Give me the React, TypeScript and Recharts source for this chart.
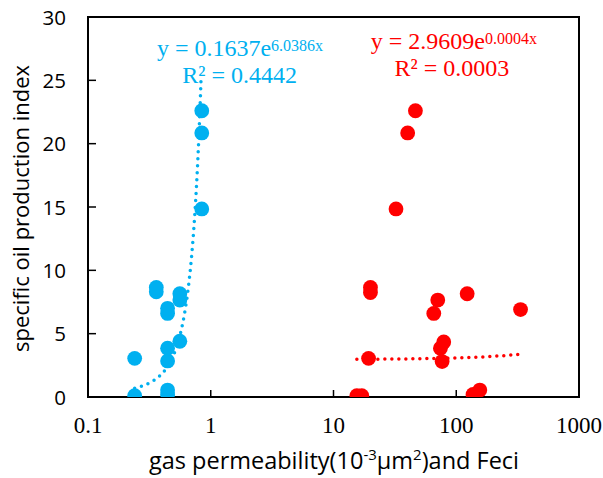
import React from 'react';
import { ScatterChart, Scatter, XAxis, YAxis, ReferenceArea } from 'recharts';

const BLUE = '#00B0F0';
const RED = '#FF0000';

// Feci series (blue)
const blueX = [0.24, 0.24, 0.36, 0.36, 0.445, 0.445, 0.445, 0.445, 0.445, 0.445, 0.56, 0.56, 0.56, 0.845, 0.845, 0.845];
const blueY = [0.1, 3.05, 8.3, 8.65, 0.2, 0.55, 2.85, 3.85, 6.6, 7.0, 4.4, 7.65, 8.15, 14.85, 20.85, 22.6];

// gas permeability series (red)
const redX = [15.5, 17, 19.3, 20, 20, 32.3, 40.2, 46.5, 65.6, 70.7, 74.3, 76.7, 79.1, 122.7, 137, 155.6, 334];
const redY = [0.1, 0.1, 3.05, 8.25, 8.65, 14.85, 20.85, 22.6, 6.6, 7.65, 3.85, 2.8, 4.35, 8.15, 0.2, 0.55, 6.9];

// trend line equations as shown on chart: y = a * e^(b x)
const blueTrendA = 0.1637;
const blueTrendB = 6.0386;
const redTrendA = 2.9609;
const redTrendB = 0.0004;
const blueTrendX = [0.24, 0.26, 0.28, 0.3, 0.32, 0.34, 0.36, 0.38, 0.4, 0.42, 0.44, 0.46, 0.48, 0.5, 0.52, 0.54, 0.56, 0.58, 0.6, 0.62, 0.64, 0.66, 0.68, 0.7, 0.72, 0.74, 0.76, 0.78, 0.8, 0.82, 0.835];
const redTrendX = [15.5, 20, 30, 40, 60, 80, 100, 130, 160, 200, 250, 300, 334];

const xTicks = [0.1, 1, 10, 100, 1000];
const xTickLabels = ['0.1', '1', '10', '100', '1000'];
const yTicks = [0, 5, 10, 15, 20, 25, 30];

const blueData = blueX.map((x, i) => ({ x, y: blueY[i] }));
const redData = redX.map((x, i) => ({ x, y: redY[i] }));
const blueTrend = blueTrendX.map((x) => ({ x, y: blueTrendA * Math.exp(blueTrendB * x) }));
const redTrend = redTrendX.map((x) => ({ x, y: redTrendA * Math.exp(redTrendB * x) }));

const XTick = (props: any) => {
  const { x, y, payload } = props;
  const idx = xTicks.indexOf(payload.value);
  return (
    <g>
      <line x1={x} y1={y} x2={x} y2={y - 7} stroke="#000" strokeWidth={1.5} />
      <text x={x} y={y + 36} textAnchor="middle" fontFamily="'Liberation Serif', serif" fontSize={23} fill="#000">
        {idx >= 0 ? xTickLabels[idx] : String(payload.value)}
      </text>
    </g>
  );
};

const YTick = (props: any) => {
  const { x, y, payload } = props;
  return (
    <g>
      <line x1={x} y1={y} x2={x + 8} y2={y} stroke="#000" strokeWidth={1.5} />
      <text x={x - 22} y={y + 7.5} textAnchor="end" fontFamily="'Open Sans', sans-serif" fontSize={20.5} fill="#000">
        {payload.value}
      </text>
    </g>
  );
};

const Dot = (color: string) => (props: any) => {
  const { cx, cy } = props;
  return <circle cx={cx} cy={cy} r={7.4} fill={color} />;
};

const NoDot = () => <g />;

export default function App() {
  return (
    <div style={{ position: 'absolute', left: 0, top: 0, width: 603, height: 478, overflow: 'hidden' }}>
      <ScatterChart width={603} height={478} margin={{ top: 17, right: 24, left: 0, bottom: 0 }} style={{ overflow: 'visible' }}>
        <XAxis
          dataKey="x"
          type="number"
          scale="log"
          domain={[0.1, 1000]}
          ticks={xTicks}
          allowDataOverflow
          height={81}
          tickSize={0}
          tickMargin={0}
          tickLine={false}
          axisLine={{ stroke: '#000', strokeWidth: 2 }}
          tick={<XTick />}
          interval={0}
        />
        <YAxis
          dataKey="y"
          type="number"
          domain={[0, 30]}
          ticks={yTicks}
          allowDataOverflow
          width={88}
          tickSize={0}
          tickMargin={0}
          tickLine={false}
          axisLine={{ stroke: '#000', strokeWidth: 2 }}
          tick={<YTick />}
          interval={0}
        />
        <ReferenceArea x1={0.1} x2={1000} y1={0} y2={30} stroke="#000" strokeWidth={2} fill="none" fillOpacity={0} />
        <Scatter data={blueData} fill={BLUE} shape={Dot(BLUE)} isAnimationActive={false} />
        <Scatter data={redData} fill={RED} shape={Dot(RED)} isAnimationActive={false} />
        <Scatter
          data={blueTrend}
          shape={NoDot}
          line={{ stroke: BLUE, strokeWidth: 3.5, strokeDasharray: '0 7', strokeLinecap: 'round' }}
          isAnimationActive={false}
        />
        <Scatter
          data={redTrend}
          shape={NoDot}
          line={{ stroke: RED, strokeWidth: 3.5, strokeDasharray: '0 7', strokeLinecap: 'round' }}
          isAnimationActive={false}
        />
      </ScatterChart>
      <svg width={603} height={478} style={{ position: 'absolute', left: 0, top: 0, pointerEvents: 'none' }}>
        <text x={240} y={56} textAnchor="middle" fontFamily="'Liberation Serif', serif" fontSize={24} fill={BLUE}>
          y = 0.1637e<tspan fontSize={16} dy={-5}>6.0386x</tspan>
        </text>
        <text x={239.7} y={83.3} textAnchor="middle" fontFamily="'Liberation Serif', serif" fontSize={24} fill={BLUE}>
          R² = 0.4442
        </text>
        <text x={453.8} y={49.3} textAnchor="middle" fontFamily="'Liberation Serif', serif" fontSize={24} fill={RED}>
          y = 2.9609e<tspan fontSize={16} dy={-5}>0.0004x</tspan>
        </text>
        <text x={451.8} y={76} textAnchor="middle" fontFamily="'Liberation Serif', serif" fontSize={24} fill={RED}>
          R² = 0.0003
        </text>
        <text x={29} y={208.5} transform="rotate(-90 29 208.5)" textAnchor="middle" fontFamily="'Open Sans', sans-serif" fontSize={22} fill="#000">
          specific oil production index
        </text>
        <text x={334} y={469} textAnchor="middle" fontFamily="'Open Sans', sans-serif" fontSize={23.5} fill="#000">
          gas permeability(10<tspan fontSize={15} dy={-9}>-3</tspan><tspan dy={9}>μm</tspan><tspan fontSize={15} dy={-9}>2</tspan><tspan dy={9}>)and Feci</tspan>
        </text>
      </svg>
    </div>
  );
}
